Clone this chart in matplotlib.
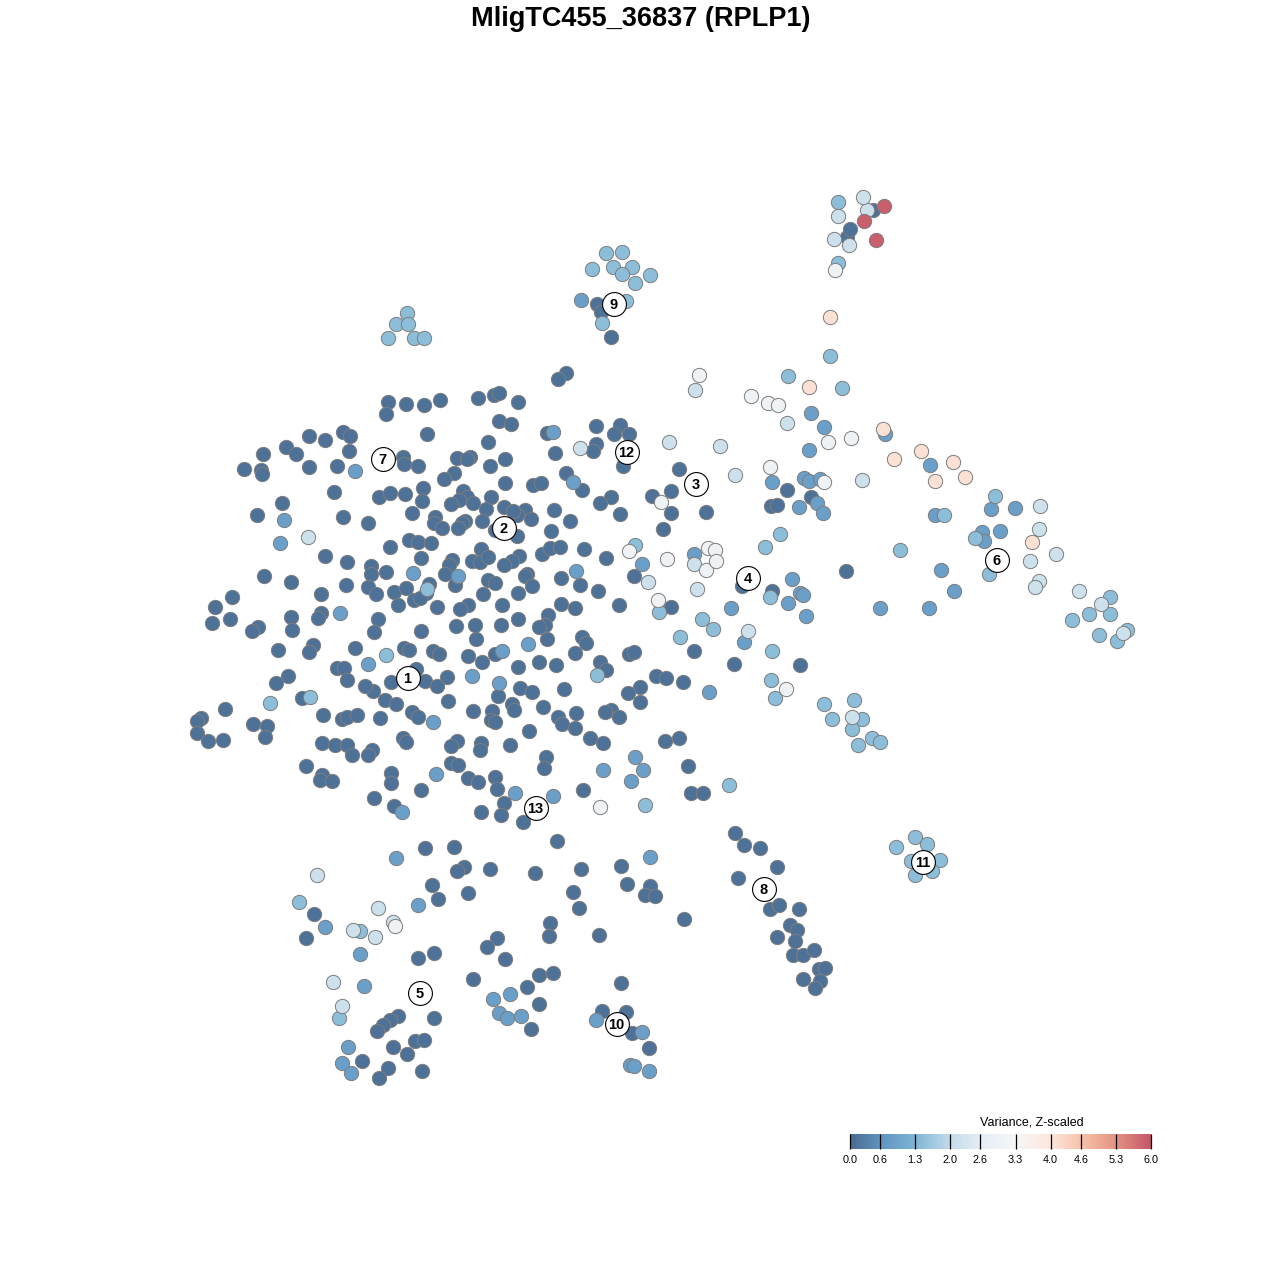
import numpy as np
import matplotlib
matplotlib.use('Agg')
import matplotlib.pyplot as plt
from matplotlib.colors import LinearSegmentedColormap

# point positions, grouped by colour level
dark_pts = [(566,373),(558,379),(388,402),(406,404),(424,405),(440,400),(478,398),(494,395),(499,393),(518,402),(386,414),
    (499,421),(511,424),(596,426),(620,425),(629,434),(614,434),(343,432),(350,436),(309,436),(325,440),(286,447),(296,454),
    (263,454),(349,451),(427,434),(488,442),(547,433),(555,453),(596,444),(593,451),(457,458),(470,457),(403,457),(418,466),
    (404,464),(244,469),(261,470),(262,474),(309,467),(337,466),(490,466),(505,459),(454,473),(467,459),(623,466),(566,473),
    (679,469),(505,483),(533,485),(541,483),(444,479),(423,488),(379,497),(390,493),(405,494),(334,492),(463,491),(491,497),
    (467,497),(459,500),(451,504),(473,503),(582,490),(652,496),(671,491),(611,497),(600,503),(422,501),(282,503),(257,515),
    (343,517),(368,523),(412,513),(435,517),(486,509),(504,507),(525,510),(517,515),(554,510),(570,521),(620,514),(671,513),
    (706,512),(434,523),(465,521),(462,523),(458,528),(442,528),(482,521),(531,519),(513,511),(551,531),(663,529),(409,540),
    (418,542),(431,543),(517,536),(495,530),(390,547),(481,549),(325,556),(347,562),(421,558),(542,554),(550,548),(560,547),
    (584,549),(519,556),(512,561),(452,560),(449,565),(472,561),(480,562),(488,557),(504,565),(606,558),(371,566),(371,574),
    (386,572),(445,574),(264,576),(634,576),(527,574),(525,576),(561,578),(488,580),(495,583),(291,582),(346,585),(368,587),
    (376,594),(394,592),(406,588),(429,584),(426,593),(455,585),(483,594),(518,593),(532,586),(580,585),(598,591),(232,597),
    (321,594),(414,600),(420,598),(437,607),(398,605),(502,605),(468,605),(460,609),(561,604),(575,608),(619,605),(215,607),
    (671,607),(321,613),(318,618),(291,617),(212,623),(230,619),(378,619),(548,615),(518,619),(501,625),(475,625),(456,626),
    (545,625),(539,627),(258,627),(252,631),(292,630),(374,632),(421,631),(547,639),(582,637),(586,643),(476,639),(278,650),
    (313,645),(309,652),(355,648),(404,648),(409,650),(433,651),(439,654),(468,656),(495,654),(575,653),(629,654),(634,652),
    (694,651),(337,668),(344,668),(416,669),(482,662),(600,662),(518,667),(539,662),(556,665),(606,670),(734,664),(800,665),
    (656,676),(666,678),(683,682),(447,677),(425,681),(288,676),(276,683),(347,680),(391,682),(437,686),(373,691),(365,686),
    (520,688),(532,692),(564,689),(640,687),(628,693),(302,698),(385,700),(396,704),(448,701),(498,696),(640,702),(473,711),
    (225,709),(201,718),(197,721),(197,733),(208,741),(223,740),(253,724),(267,726),(265,737),(323,715),(342,719),(347,717),
    (357,715),(380,718),(412,712),(418,717),(492,711),(512,704),(514,710),(543,707),(558,717),(576,713),(611,710),(605,712),
    (619,717),(491,720),(495,722),(562,724),(575,728),(529,731),(322,743),(335,745),(347,745),(352,755),(403,738),(406,742),
    (372,750),(368,755),(457,741),(451,746),(481,743),(480,750),(510,745),(590,738),(603,743),(665,741),(679,738),(546,757),
    (544,768),(306,766),(322,775),(320,780),(332,781),(391,773),(391,783),(451,763),(458,765),(468,778),(478,782),(495,777),
    (688,766),(374,798),(497,789),(421,790),(394,806),(583,790),(691,793),(703,793),(504,803),(481,812),(501,815),(523,822),
    (557,841),(425,848),(454,847),(464,867),(457,871),(490,869),(535,873),(581,869),(621,866),(432,885),(468,893),(438,899),
    (573,892),(579,908),(627,884),(650,886),(645,895),(655,896),(684,919),(550,923),(549,936),(599,935),(497,938),(487,947),
    (505,959),(434,953),(418,958),(473,979),(539,975),(553,973),(527,987),(539,1004),(621,983),(434,1018),(531,1029),(314,914),
    (306,938),(735,833),(744,845),(760,848),(777,867),(738,878),(770,909),(779,905),(799,909),(790,925),(797,930),(777,937),
    (795,941),(793,955),(803,955),(814,950),(819,969),(825,968),(803,979),(820,981),(815,988),(398,1016),(390,1020),(383,1025),
    (377,1031),(393,1047),(415,1041),(424,1040),(407,1054),(362,1061),(388,1068),(379,1078),(422,1071),(602,1011),(626,1012),
    (632,1033),(649,1048),(873,210),(847,237),(850,229),(597,304),(601,312),(611,337),(772,591),(742,586),(846,571),(771,506),
    (777,505),(787,490),(811,497)]
mid_pts = [(284,520),(280,543),(340,613),(368,664),(458,576),(413,573),(528,644),(502,651),(472,676),(499,683),(433,722),
    (436,774),(515,793),(553,796),(603,770),(631,781),(643,770),(635,757),(396,858),(418,905),(325,927),(360,954),(364,986),
    (348,1047),(342,1063),(351,1073),(493,999),(510,994),(499,1013),(507,1018),(521,1016),(596,1020),(642,1032),(630,1065),
    (634,1066),(649,1071),(576,571),(642,564),(573,482),(553,432),(694,554),(772,482),(804,478),(809,481),(820,479),(799,507),
    (817,503),(823,513),(809,450),(824,427),(811,413),(744,642),(731,608),(792,579),(788,603),(800,593),(803,595),(806,616),
    (880,608),(929,608),(941,570),(954,591),(1015,508),(991,509),(1000,531),(982,532),(984,541),(935,515),(930,465),(885,434),
    (355,471),(402,812),(650,857),(709,692),(581,300)]
light_pts = [(606,253),(622,252),(592,269),(613,267),(632,267),(622,274),(650,275),(635,283),(626,301),(602,323),(407,313),
    (396,324),(408,324),(388,338),(414,338),(424,338),(838,202),(838,263),(788,376),(830,356),(842,388),(635,545),(900,550),
    (765,547),(780,534),(975,538),(989,574),(995,496),(1110,597),(1072,620),(1089,614),(1110,614),(1099,635),(1117,641),
    (1127,630),(770,597),(702,619),(713,629),(680,637),(772,651),(771,680),(775,698),(824,704),(854,700),(832,719),(862,719),
    (852,729),(872,738),(858,745),(880,742),(729,785),(645,805),(597,675),(270,703),(310,697),(386,655),(427,589),(659,612),
    (915,837),(927,844),(896,847),(911,861),(940,860),(915,875),(932,871),(299,902),(360,931),(339,1018),(944,515)]
pale_pts = [(317,875),(378,908),(353,930),(375,937),(393,922),(333,982),(342,1006),(1079,591),(852,717),(1101,604),(1123,633),
    (1039,529),(1040,506),(1056,554),(1030,561),(1039,581),(1035,587),(748,631),(695,390),(862,480),(735,475),(720,446),
    (669,442),(580,448),(308,537),(697,589),(648,582),(694,564),(787,423),(849,245),(867,210),(838,216),(834,239),(863,197)]
white_pts = [(699,375),(751,396),(768,403),(778,405),(828,442),(851,438),(770,467),(824,482),(661,502),(629,551),(708,548),
    (715,550),(706,570),(716,561),(667,559),(658,600),(786,689),(600,807),(835,270),(395,926)]
peach_pts = [(830,317),(809,387),(883,429),(894,459),(921,451),(953,462),(935,481),(965,477),(1032,542)]
red_pts = [(876,240),(884,206),(864,221)]

# colour value per group
dark_val = 0.1
mid_val = 0.85
light_val = 1.45
pale_val = 2.2
white_val = 3.0
peach_val = 4.1
red_val = 5.9

cluster_ids = ['1','2','3','4','5','6','7','8','9','10','11','12','13']
cluster_x = [407,503,695,747,419,996,382,763,613,616,922,626,535]
cluster_y = [677,527,483,577,992,559,458,888,303,1023,861,451,807]

bar_ticks = [0.0,0.6,1.3,2.0,2.6,3.3,4.0,4.6,5.3,6.0]
bar_colors = ['#4b6b90','#5f93c2','#7fb5d5','#c3dcea','#e4edf4','#f6f6f6','#fce6dc','#f7c3aa','#e39382','#c5566a']

cmap = LinearSegmentedColormap.from_list('var', list(zip(np.array(bar_ticks)/6.0, bar_colors)))

fig = plt.figure(figsize=(12.8,12.8), dpi=100)
plt.rcParams['font.family'] = ['Liberation Sans','DejaVu Sans']
ax = fig.add_axes([0,0,1,1])
ax.set_xlim(-0.5,1279.5)
ax.set_ylim(1279.5,-0.5)
ax.axis('off')

groups = [(dark_pts,dark_val),(mid_pts,mid_val),(light_pts,light_val),(pale_pts,pale_val),
          (white_pts,white_val),(peach_pts,peach_val),(red_pts,red_val)]
for pts, val in groups:
    p = np.array(pts)
    sc = ax.scatter(p[:,0], p[:,1], c=np.full(len(p), val), cmap=cmap, vmin=0, vmax=6, s=106,
                    edgecolors='#7d7d7d', linewidths=0.7, zorder=2)

ax.scatter(cluster_x, cluster_y, s=295, c='white', edgecolors='black', linewidths=0.8, zorder=3)
for lab, x, y in zip(cluster_ids, cluster_x, cluster_y):
    ax.text(x, y, lab, ha='center', va='center_baseline', fontsize=10.5, fontweight='bold', color='black', zorder=4)

ax.text(640, 18, 'MligTC455_36837 (RPLP1)', ha='center', va='center', fontsize=19.5, fontweight='bold')

# colour key
cax = fig.add_axes([850/1280, 1-1149/1280, 301/1280, 15/1280])
cb = fig.colorbar(sc, cax=cax, orientation='horizontal', ticks=bar_ticks)
cb.outline.set_visible(False)
cax.set_xticklabels(['%.1f' % t for t in bar_ticks])
cax.tick_params(axis='x', direction='in', length=10.8, width=0.9, color='black', labelsize=7.8, pad=4)
ax.text(1031, 1122, 'Variance, Z-scaled', ha='center', va='center', fontsize=9)

fig.savefig('out.png', dpi=100)
